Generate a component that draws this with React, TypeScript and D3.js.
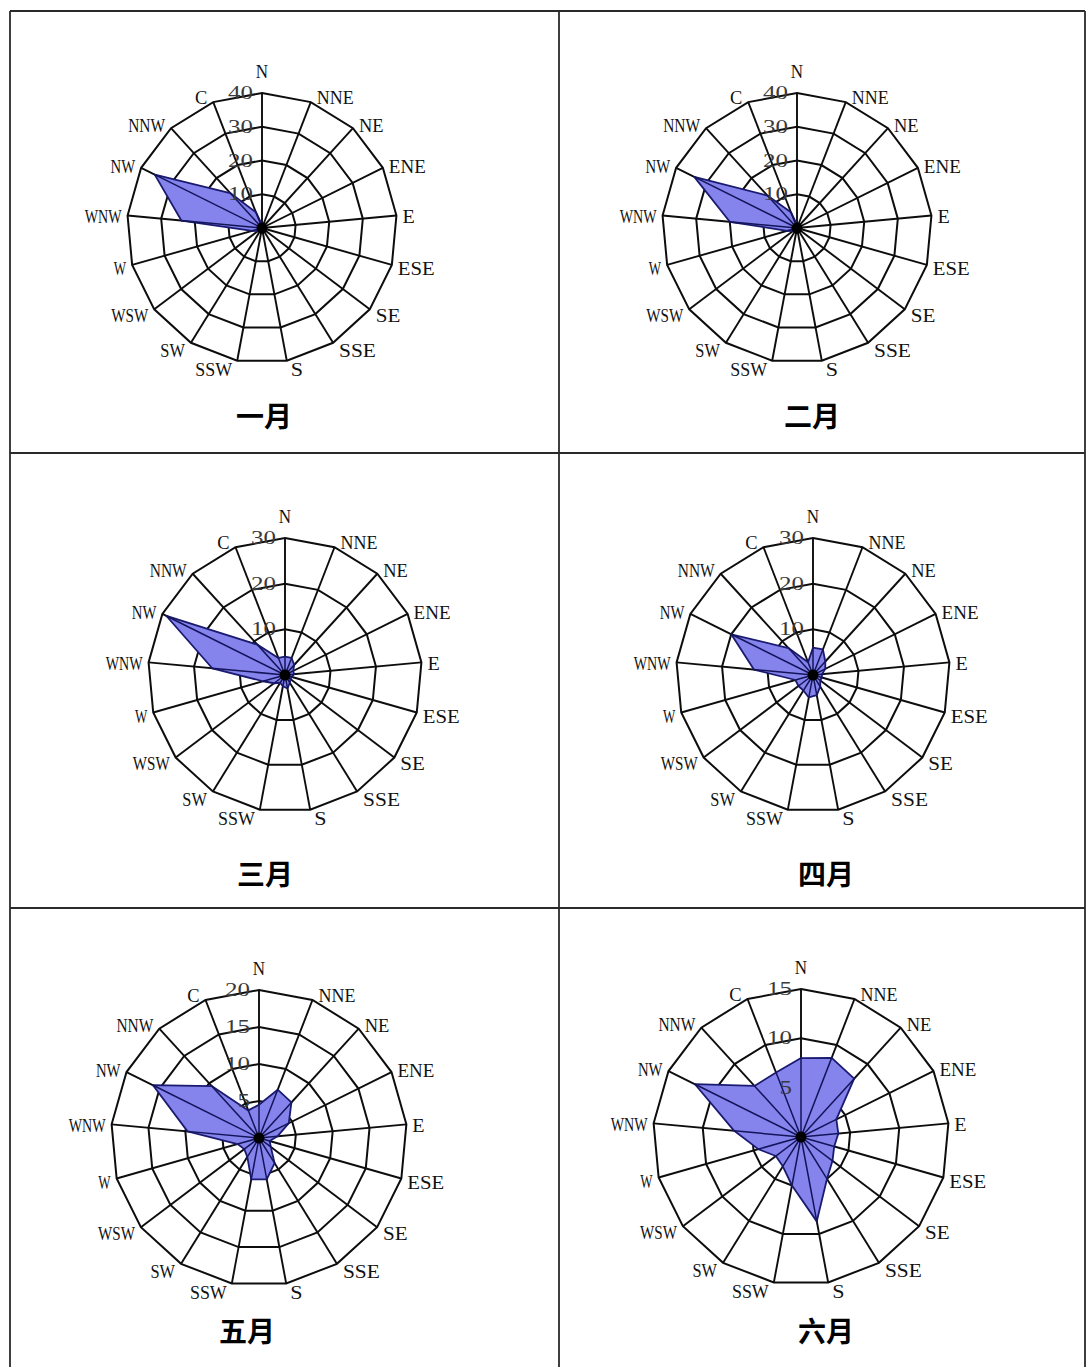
import React from "react";
import * as d3 from "d3";

// ---- data ----
const directions = ["N", "NNE", "NE", "ENE", "E", "ESE", "SE", "SSE", "S", "SSW", "SW", "WSW", "W", "WNW", "NW", "NNW", "C"];
const months = ["一月", "二月", "三月", "四月", "五月", "六月"];
const janValues = [1, 0.5, 0.5, 0.5, 0.5, 0.5, 0.5, 0.5, 0.8, 1, 1, 1.5, 3, 24, 35.5, 14, 5];
const febValues = [1, 0.5, 0.5, 0.5, 0.5, 0.5, 0.5, 0.5, 0.8, 1, 1, 1.5, 3, 20, 34, 13, 5];
const marValues = [4, 4, 3, 2, 2, 1.5, 1.5, 2, 3, 2.5, 2, 3, 5, 16, 29, 9, 4];
const aprValues = [6, 6, 4, 3, 2, 2, 2, 3, 4.5, 5, 4, 4, 4, 13, 20, 8, 3];
const mayValues = [4.5, 7, 6.5, 4.5, 2.5, 1.5, 2, 4, 5.7, 5.7, 3, 2.5, 3, 9.7, 16, 9.5, 4];
const junValues = [8, 8.6, 8, 4, 3.8, 3.5, 4, 5, 8.7, 5, 3.5, 3.2, 4.5, 6.8, 12, 7, 7];
const monthValues = [janValues, febValues, marValues, aprValues, mayValues, junValues];
const scaleMax = [40, 40, 30, 30, 20, 15];
const tickStep = [10, 10, 10, 10, 5, 5];

// ---- layout ----
const panels = [
  { cx: 262, cy: 228, R: 135, lx: 264, ly: 415 },
  { cx: 797, cy: 228, R: 135, lx: 812, ly: 415 },
  { cx: 285, cy: 675, R: 137, lx: 265, ly: 873 },
  { cx: 813, cy: 675, R: 137, lx: 826, ly: 873 },
  { cx: 259, cy: 1138, R: 148, lx: 247, ly: 1330 },
  { cx: 801, cy: 1137, R: 148, lx: 826, ly: 1330 },
];

const W = 1088;
const H = 1367;
const nDir = directions.length;
const angle = d3.scaleLinear().domain([0, nDir]).range([0, 2 * Math.PI]);

const labelFont = "'Liberation Serif', 'DejaVu Serif', serif";

function Rose({ values, max, step, cx, cy, R }: any) {
  const r = d3.scaleLinear().domain([0, max]).range([0, R]);
  const ticks = d3.range(step, max + 1e-6, step);
  const radial = d3
    .lineRadial<number>()
    .angle((_, i) => angle(i))
    .radius((d) => r(d))
    .curve(d3.curveLinearClosed);
  const pt = (i: number, v: number) => [Math.sin(angle(i)) * r(v), -Math.cos(angle(i)) * r(v)];

  return (
    <g transform={`translate(${cx},${cy})`}>
      {ticks.map((t) => (
        <path key={"ring" + t} d={radial(directions.map(() => t)) || ""} fill="none" stroke="#0d0d0d" strokeWidth={2} />
      ))}
      {directions.map((d, i) => {
        const [x, y] = pt(i, max);
        return <line key={"sp" + d} x1={0} y1={0} x2={x} y2={y} stroke="#0d0d0d" strokeWidth={1.9} />;
      })}
      <path d={radial(values) || ""} fill="#8484ec" stroke="#1a1a70" strokeWidth={1.8} strokeLinejoin="round" />
      {values.map((v: number, i: number) => {
        const [x, y] = pt(i, v);
        return <line key={"dl" + i} x1={0} y1={0} x2={x} y2={y} stroke="#14145a" strokeWidth={1.5} />;
      })}
      <circle r={5.5} fill="#000" />
      {ticks.map((t) => (
        <text
          key={"tk" + t}
          x={-9}
          y={-r(t)}
          textAnchor="end"
          dominantBaseline="central"
          fontFamily={labelFont}
          fontSize={18}
          fill="#3a3a3a"
          textLength={String(t).length * 12.5}
          lengthAdjust="spacingAndGlyphs"
        >
          {t}
        </text>
      ))}
      {directions.map((d, i) => {
        const a = angle(i);
        const [ex, ey] = pt(i, max);
        const w = d.length * 12.3;
        const s = Math.sin(a);
        let anchor = "middle";
        let x = ex;
        let y = ey + 2.5 - 7 * Math.cos(a);
        if (i === 0) {
          y = ey - 21;
        } else if (s > 0) {
          anchor = "start";
          x = ex + (Math.abs(s) < 0.3 ? 4 : 6);
        } else {
          anchor = "end";
          x = ex - (Math.abs(s) < 0.3 ? 5 : 6);
        }
        return (
          <text
            key={"lb" + d}
            x={x}
            y={y}
            textAnchor={anchor}
            dominantBaseline="central"
            fontFamily={labelFont}
            fontSize={18.5}
            fill="#111"
            textLength={w}
            lengthAdjust="spacingAndGlyphs"
          >
            {d}
          </text>
        );
      })}
    </g>
  );
}

export default function App() {
  return (
    <svg
      width={W}
      height={H}
      viewBox={`0 0 ${W} ${H}`}
      style={{ position: "absolute", left: 0, top: 0, background: "#fff" }}
    >
      <rect x={0} y={0} width={W} height={H} fill="#fff" />
      <g stroke="#2a2a2a" strokeWidth={1.8} fill="none">
        <line x1={10} y1={11} x2={1085} y2={11} />
        <line x1={10} y1={11} x2={10} y2={H} />
        <line x1={559} y1={11} x2={559} y2={H} />
        <line x1={1085} y1={11} x2={1085} y2={H} />
        <line x1={10} y1={453} x2={1085} y2={453} />
        <line x1={10} y1={908} x2={1085} y2={908} />
      </g>
      {panels.map((p, k) => (
        <g key={"p" + k}>
          <Rose values={monthValues[k]} max={scaleMax[k]} step={tickStep[k]} cx={p.cx} cy={p.cy} R={p.R} />
          <text
            x={p.lx}
            y={p.ly}
            textAnchor="middle"
            dominantBaseline="central"
            fontFamily="'Noto Sans CJK SC', sans-serif"
            fontWeight={700}
            fontSize={28}
            fill="#000"
          >
            {months[k]}
          </text>
        </g>
      ))}
    </svg>
  );
}
